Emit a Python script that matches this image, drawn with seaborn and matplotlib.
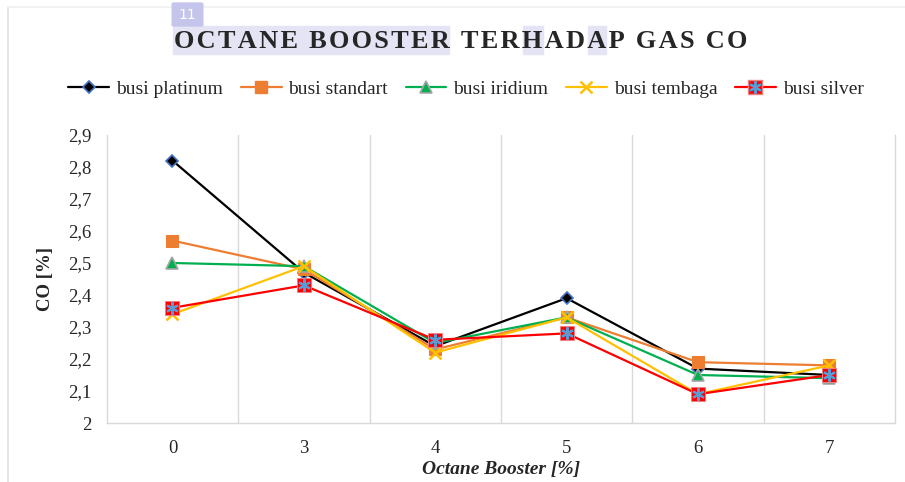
import matplotlib
matplotlib.use("Agg")
import matplotlib.pyplot as plt
import matplotlib.patches as mpatches
from matplotlib.lines import Line2D
from matplotlib.legend_handler import HandlerTuple
import seaborn as sns
import pandas as pd

# data
booster = ["0", "3", "4", "5", "6", "7"]
platinum = [2.82, 2.47, 2.24, 2.39, 2.17, 2.15]
standart = [2.57, 2.48, 2.23, 2.33, 2.19, 2.18]
iridium = [2.50, 2.49, 2.25, 2.33, 2.15, 2.14]
tembaga = [2.34, 2.49, 2.22, 2.33, 2.09, 2.18]
silver = [2.36, 2.43, 2.26, 2.28, 2.09, 2.15]
yticks = [2.0, 2.1, 2.2, 2.3, 2.4, 2.5, 2.6, 2.7, 2.8, 2.9]

series = [
    ("busi platinum", platinum, dict(color="black", marker="D", ms=6, mfc="black", mec="#4472C4", mew=1.2)),
    ("busi standart", standart, dict(color="#ED7D31", marker="s", ms=9, mfc="#ED7D31", mec="#ED7D31")),
    ("busi iridium", iridium, dict(color="#00B050", marker="^", ms=9, mfc="#00B050", mec="#A5A5A5", mew=1.2)),
    ("busi tembaga", tembaga, dict(color="#FFC000", marker="x", ms=9, mec="#FFC000", mew=1.8)),
    ("busi silver", silver, dict(color="#FF0000", marker="s", ms=10, mfc="#FF0000", mec="#F08080")),
]
star = dict(linestyle="none", marker=(6, 2, 0), ms=9, mec="#5B9BD5", mew=1.5)

sns.set_theme(style="white")
plt.rcParams["font.family"] = ["Liberation Serif", "DejaVu Serif"]

fig = plt.figure(figsize=(9.05, 4.82), dpi=100)
ax = fig.add_axes([0.118, 0.1224, 0.871, 0.5976])

handles, labels = [], []
for name, vals, st in series:
    df = pd.DataFrame({"booster": booster, "co": vals})
    sns.lineplot(data=df, x="booster", y="co", ax=ax, sort=False, linewidth=1.6, **st)
    h = Line2D([], [], linewidth=1.6, **st)
    if name == "busi silver":
        h = (h, Line2D([], [], **star))
    handles.append(h)
    labels.append(name)

# asterisk over the silver squares
ax.plot(booster, silver, zorder=5, **star)

ax.set_xlim(-0.5, len(booster) - 0.5)
ax.set_ylim(2.0, 2.9)
ax.set_yticks(yticks)
ax.set_yticklabels([("%g" % v).replace(".", ",") for v in yticks], fontsize=13.5)
ax.tick_params(axis="x", labelsize=13.5, pad=12, length=0)
ax.tick_params(axis="y", pad=11, length=0)

for xb in [0.5 + i for i in range(len(booster) - 1)]:
    ax.axvline(xb, color="#D9D9D9", lw=1, zorder=0)
for side in ["left", "right", "bottom"]:
    ax.spines[side].set_color("#D9D9D9")
    ax.spines[side].set_linewidth(1)
ax.spines["top"].set_visible(False)

ax.set_xlabel("Octane Booster [%]", fontsize=14, fontweight="bold", fontstyle="italic", labelpad=3)
ax.set_ylabel("CO [%]", fontsize=13.5, fontweight="bold", labelpad=10)

ax.legend(handles, labels, ncol=5, frameon=False, fontsize=14,
          loc="center", bbox_to_anchor=(0.515, 0.815), bbox_transform=fig.transFigure,
          handlelength=2.1, columnspacing=0.9, handletextpad=0.36,
          handler_map={tuple: HandlerTuple(ndivide=1)})

# chart frame edges
fig.lines.append(Line2D([8 / 905, 8 / 905], [0, 1 - 7 / 482], transform=fig.transFigure,
                        color="#E2E2E2", lw=1.2, zorder=1))
fig.lines.append(Line2D([8 / 905, 1], [1 - 7 / 482, 1 - 7 / 482], transform=fig.transFigure,
                        color="#F0F0F0", lw=1.2, zorder=1))

# highlight marks on the title
hl = "#E4E4F5"
for x0, x1 in [(173, 449), (523, 543), (588, 606)]:
    fig.patches.append(mpatches.Rectangle((x0 / 905, 1 - 54 / 482), (x1 - x0) / 905, 28 / 482,
                                          transform=fig.transFigure, color=hl, zorder=0))
fig.patches.append(mpatches.FancyBboxPatch((174 / 905, 1 - 25 / 482), 27 / 905, 21 / 482,
                                           boxstyle="round,pad=0.002", transform=fig.transFigure,
                                           color="#C5C5EC", zorder=2))
fig.text(187 / 905, 1 - 15 / 482, "11", color="white", fontsize=10, ha="center", va="center",
         family=["DejaVu Sans"], zorder=3)

title = "OCTANE BOOSTER TERHADAP GAS CO"
spaced = "\u200a".join(title)
fig.text(461 / 905, 1 - 41 / 482, spaced, fontsize=19, fontweight="bold", ha="center", va="center",
         zorder=4)

fig.savefig("out.png", dpi=100)
